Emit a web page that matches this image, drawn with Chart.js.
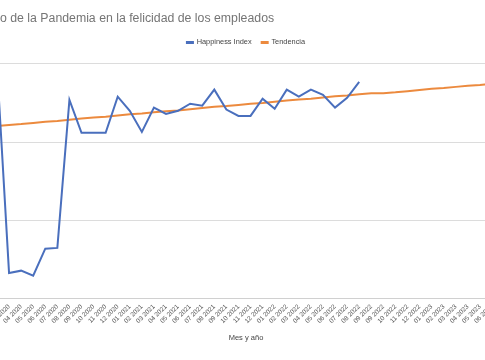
<!DOCTYPE html>
<html>
<head>
<meta charset="utf-8">
<script src="https://cdn.jsdelivr.net/npm/chart.js@4.4.0/dist/chart.umd.min.js"></script>
<style>
  html, body { margin: 0; padding: 0; overflow: hidden; background: #fff; }
  #wrap { position: relative; width: 492px; height: 360px; }
</style>
</head>
<body>
<div id="wrap"><canvas id="myChart" width="492" height="360"></canvas></div>
<script>
// month labels (note the repeated 09 2022 in the source sheet)
var meses = ['02 2020', '03 2020', '04 2020', '05 2020', '06 2020', '07 2020', '08 2020',
    '09 2020', '10 2020', '11 2020', '12 2020', '01 2021', '02 2021', '03 2021', '04 2021',
    '05 2021', '06 2021', '07 2021', '08 2021', '09 2021', '10 2021', '11 2021', '12 2021',
    '01 2022', '02 2022', '03 2022', '04 2022', '05 2022', '06 2022', '07 2022', '08 2022',
    '09 2022', '09 2022', '10 2022', '11 2022', '12 2022', '01 2023', '02 2023', '03 2023',
    '04 2023', '05 2023', '06 2023'];

var happiness = [5.95, 0.66, 0.72, 0.59, 1.28, 1.30, 5.08, 4.24, 4.24, 4.24, 5.16, 4.80,
    4.26, 4.88, 4.72, 4.80, 4.98, 4.93, 5.34, 4.83, 4.67, 4.67, 5.11, 4.85, 5.34, 5.16,
    5.34, 5.21, 4.88, 5.13, 5.54];

var tendencia = [4.41, 4.44, 4.46, 4.49, 4.52, 4.54, 4.57, 4.60, 4.63, 4.65, 4.68, 4.71,
    4.73, 4.76, 4.79, 4.81, 4.84, 4.87, 4.90, 4.92, 4.95, 4.98, 5.00, 5.03, 5.06, 5.09,
    5.11, 5.14, 5.17, 5.19, 5.22, 5.25, 5.25, 5.27, 5.30, 5.33, 5.36, 5.38, 5.41, 5.44,
    5.46, 5.49];

var yTicks = [0, 2, 4, 6];

function toPoints(arr) {
    return arr.map(function (v, i) {
        return { x: i, y: v };
    });
}

var font = "'Liberation Sans', Arial, sans-serif";

var ctx = document.getElementById('myChart').getContext('2d');
var myChart = new Chart(ctx, {
    type: 'line',
    data: {
        datasets: [
            {
                label: 'Happiness Index',
                data: toPoints(happiness),
                borderColor: '#4a6fbd',
                backgroundColor: '#4a6fbd',
                borderWidth: 2,
                pointRadius: 0,
                tension: 0,
                clip: false,
            },
            {
                label: 'Tendencia',
                data: toPoints(tendencia),
                borderColor: '#ec8a3e',
                backgroundColor: '#ec8a3e',
                borderWidth: 2,
                pointRadius: 0,
                tension: 0,
                clip: false,
            },
        ],
    },
    options: {
        responsive: false,
        animation: false,
        layout: {
            padding: { left: 0, right: 0, top: 0, bottom: 17.5 },
        },
        scales: {
            x: {
                type: 'linear',
                min: 0.25,
                max: 41,
                grid: { display: false, drawTicks: false },
                border: { display: true, color: '#d0d0d0', width: 1 },
                ticks: {
                    stepSize: 1,
                    includeBounds: false,
                    autoSkip: false,
                    maxTicksLimit: 100,
                    minRotation: 45,
                    maxRotation: 45,
                    padding: 4,
                    color: '#555555',
                    font: { family: font, size: 6.5 },
                    callback: function (value) {
                        return Number.isInteger(value) ? meses[value] : '';
                    },
                },
                title: {
                    display: true,
                    text: 'Mes y año',
                    color: '#444444',
                    font: { family: font, size: 7.5 },
                    padding: { top: 4.5, bottom: 0 },
                },
                afterFit: function (scale) {
                    // keep the plot flush with the edges, like the cropped original
                    scale.paddingLeft = 0;
                    scale.paddingRight = 0;
                },
            },
            y: {
                min: yTicks[0],
                max: yTicks[yTicks.length - 1],
                grid: { color: '#dcdcdc', drawTicks: false },
                border: { display: false },
                ticks: { display: false, stepSize: 2 },
            },
        },
        plugins: {
            title: {
                display: true,
                text: 'o de la Pandemia en la felicidad de los empleados',
                align: 'start',
                color: '#757575',
                font: { family: font, size: 12.3, weight: 'normal' },
                padding: { top: 11, bottom: 3 },
            },
            // empty spacer between legend and plot area
            subtitle: {
                display: true,
                text: '',
                weight: 500,
                font: { size: 1 },
                padding: { top: 0, bottom: 6.4 },
            },
            legend: {
                display: true,
                labels: {
                    boxWidth: 6,
                    boxHeight: 1,
                    padding: 10,
                    color: '#444444',
                    font: { family: font, size: 7.4 },
                },
            },
            tooltip: { enabled: false },
        },
    },
});
</script>
</body>
</html>
